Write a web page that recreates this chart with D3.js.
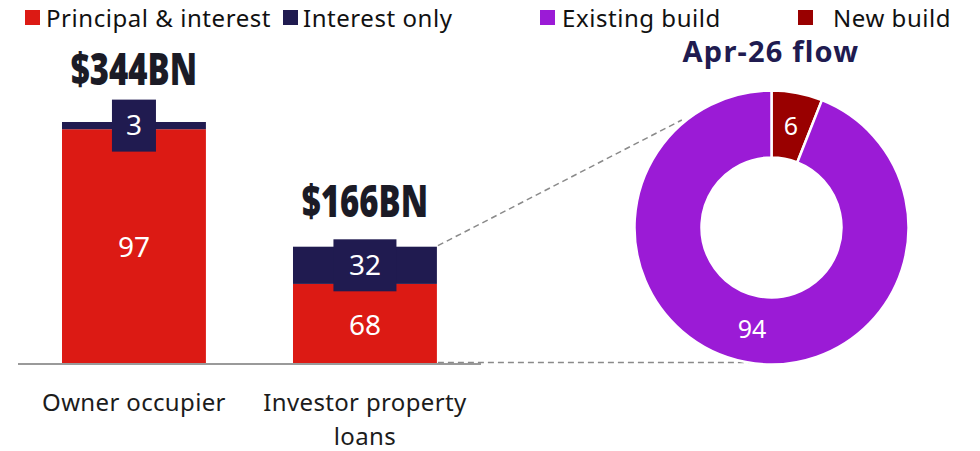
<!DOCTYPE html>
<html>
<head>
<meta charset="utf-8">
<script src="https://cdn.jsdelivr.net/npm/d3@7"></script>
<style>
  html, body { margin: 0; padding: 0; background: #fff; }
  svg { display: block; }
  text { font-family: "Noto Sans", "Open Sans", sans-serif; }
</style>
</head>
<body>
<svg id="chart" width="980" height="451"></svg>
<script>
// Loan book by type ($BN totals, repayment split in %)
const categories = ["Owner occupier", "Investor property loans"];
const categoryLines = [["Owner occupier"], ["Investor property", "loans"]];
const totals = [344, 166];
const totalLabels = ["$344BN", "$166BN"];
const principalInterest = [97, 68];
const interestOnly = [3, 32];
const seriesNames = ["Principal & interest", "Interest only"];

// New lending flow split for investor loans (%)
const flowTitle = "Apr-26 flow";
const flowNames = ["New build", "Existing build"];
const flowValues = [6, 94];

const colors = {
  pi: "#DC1A14",
  io: "#201B50",
  existing: "#9B1BD6",
  newBuild: "#990000",
  text: "#1c1c1c",
  axis: "#9a9a9a",
  dash: "#8a8a8a"
};

const svg = d3.select("#chart");

// ---- Stacked bars ----
const x = d3.scaleBand().domain(categories).range([15.8, 483.1]).paddingInner(0.377).paddingOuter(0.2);
const y = d3.scaleLinear().domain([0, 344]).range([363, 122]);

const rows = categories.map((c, i) => ({
  cat: c, total: totals[i], label: totalLabels[i],
  pi: principalInterest[i], io: interestOnly[i]
}));
const stack = d3.stack().keys(["pi", "io"])
  .value((d, k) => d.total * d[k] / 100);
const layers = stack(rows);
const layerColor = { pi: colors.pi, io: colors.io };

const bars = svg.append("g");
layers.forEach(layer => {
  bars.selectAll(null).data(layer).join("rect")
    .attr("x", d => x(d.data.cat))
    .attr("width", x.bandwidth())
    .attr("y", d => y(d[1]))
    .attr("height", d => y(d[0]) - y(d[1]))
    .attr("fill", layerColor[layer.key]);
});

// baseline
svg.append("line")
  .attr("x1", 18).attr("x2", 481)
  .attr("y1", y(0) + 1).attr("y2", y(0) + 1)
  .attr("stroke", colors.axis).attr("stroke-width", 2);

// segment value labels
const piLayer = layers[0], ioLayer = layers[1];
svg.append("g").selectAll("text").data(piLayer).join("text")
  .attr("x", d => x(d.data.cat) + x.bandwidth() / 2)
  .attr("y", d => (y(d[0]) + y(d[1])) / 2 + 1.5)
  .attr("dy", "0.35em")
  .attr("text-anchor", "middle")
  .attr("fill", "#fff")
  .attr("font-size", 28)
  .text(d => d.data.pi);

const ioLabels = svg.append("g").selectAll("g").data(ioLayer).join("g")
  .attr("transform", d => `translate(${x(d.data.cat) + x.bandwidth() / 2},${(y(d[0]) + y(d[1])) / 2})`);
ioLabels.append("rect")
  .attr("x", d => d.data.io >= 10 ? -31.5 : -22)
  .attr("width", d => d.data.io >= 10 ? 63 : 44)
  .attr("y", -26).attr("height", 52)
  .attr("fill", colors.io);
ioLabels.append("text")
  .attr("text-anchor", "middle")
  .attr("dy", "0.35em")
  .attr("fill", "#fff")
  .attr("font-size", 28)
  .text(d => d.data.io);

// totals above bars (condensed heavy type)
svg.append("g").selectAll("text").data(rows).join("text")
  .attr("transform", (d, i) => `translate(${x(d.cat) + x.bandwidth() / 2},${y(d.total) - (i === 0 ? 37 : 30)}) scale(0.73,1)`)
  .attr("text-anchor", "middle")
  .attr("fill", "#1b1b26")
  .attr("font-family", "Lato, sans-serif")
  .attr("font-weight", 900)
  .attr("font-size", 45)
  .text(d => d.label);

// category labels
const catG = svg.append("g").selectAll("text").data(categories).join("text")
  .attr("x", d => x(d) + x.bandwidth() / 2)
  .attr("y", 411)
  .attr("text-anchor", "middle")
  .attr("fill", colors.text)
  .attr("font-size", 24)
  .attr("letter-spacing", 0.35);
catG.selectAll("tspan").data((d, i) => categoryLines[i]).join("tspan")
  .attr("x", function () { return this.parentNode.getAttribute("x"); })
  .attr("dy", (d, i) => i === 0 ? 0 : 34)
  .text(d => d);

// ---- Donut ----
const cx = 771.5, cy = 227.5, rOuter = 137, rInner = 70;
const pie = d3.pie().sort(null).value(d => d.v);
const arcs = pie(flowNames.map((n, i) => ({ name: n, v: flowValues[i] })));
const arc = d3.arc().innerRadius(rInner).outerRadius(rOuter);
const labelArc = d3.arc().innerRadius((rInner + rOuter) / 2).outerRadius((rInner + rOuter) / 2);
const flowColor = { "New build": colors.newBuild, "Existing build": colors.existing };

// connector lines from investor bar to donut
const inv = rows[1];
const barRight = x(inv.cat) + x.bandwidth();
const topAngle = -0.695;
const dashG = svg.append("g")
  .attr("stroke", colors.dash).attr("stroke-width", 1.5)
  .attr("stroke-dasharray", "6,4").attr("fill", "none");
dashG.append("line")
  .attr("x1", barRight + 1).attr("y1", y(inv.total) - 1)
  .attr("x2", cx + (rOuter + 3) * Math.sin(topAngle))
  .attr("y2", cy - (rOuter + 3) * Math.cos(topAngle));
dashG.append("line")
  .attr("x1", barRight + 1).attr("y1", y(0) - 0.5)
  .attr("x2", cx - 10).attr("y2", y(0) - 0.5);

const donut = svg.append("g").attr("transform", `translate(${cx},${cy})`);
donut.selectAll("path").data(arcs).join("path")
  .attr("d", arc)
  .attr("fill", d => flowColor[d.data.name])
  .attr("stroke", "#fff")
  .attr("stroke-width", 2.5);
donut.selectAll("text").data(arcs).join("text")
  .attr("transform", d => `translate(${labelArc.centroid(d)})`)
  .attr("text-anchor", "middle")
  .attr("dy", "0.35em")
  .attr("fill", "#fff")
  .attr("font-size", 25)
  .text(d => d.data.v);

svg.append("text")
  .attr("x", 771).attr("y", 62)
  .attr("text-anchor", "middle")
  .attr("fill", colors.io)
  .attr("font-weight", 700)
  .attr("font-size", 29)
  .attr("letter-spacing", 1.2)
  .text(flowTitle);

// ---- Legends ----
const legendLeft = [
  { name: seriesNames[0], color: colors.pi, x: 25, tx: 46 },
  { name: seriesNames[1], color: colors.io, x: 283, tx: 303 }
];
const legendRight = [
  { name: flowNames[1], color: colors.existing, x: 540, tx: 562 },
  { name: flowNames[0], color: colors.newBuild, x: 798, tx: 833 }
];
const leg = svg.append("g").selectAll("g").data(legendLeft.concat(legendRight)).join("g");
leg.append("rect")
  .attr("x", d => d.x).attr("y", 10)
  .attr("width", 15).attr("height", 15)
  .attr("fill", d => d.color);
leg.append("text")
  .attr("x", d => d.tx).attr("y", 27)
  .attr("fill", "#111")
  .attr("font-size", 24)
  .attr("letter-spacing", 0.55)
  .text(d => d.name);
</script>
</body>
</html>
